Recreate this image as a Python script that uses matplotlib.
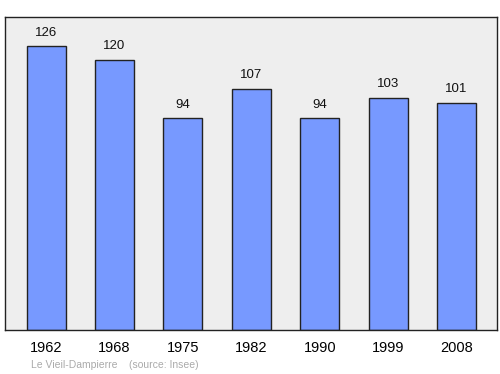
import matplotlib.pyplot as plt

years = ["1962", "1968", "1975", "1982", "1990", "1999", "2008"]
population = [126, 120, 94, 107, 94, 103, 101]

plt.rcParams["font.family"] = ["Liberation Sans", "DejaVu Sans"]

fig = plt.figure(figsize=(5, 3.74), dpi=100)
ax = fig.add_axes([5 / 500, 1 - 330 / 374, 492 / 500, 313 / 374])
ax.set_facecolor("#eeeeee")

x = list(range(len(years)))
ax.bar(x, population, width=0.57, color="#7799ff", edgecolor="#222222", linewidth=1)

for xi, v in zip(x, population):
    ax.annotate(str(v), (xi, v), xytext=(0, 5.5), textcoords="offset points",
                ha="center", va="bottom", fontsize=9.5, color="#111111")

ax.set_xlim(-0.6, 6.59)
ax.set_ylim(0, 139)
ax.set_yticks([])
ax.set_xticks(x)
ax.set_xticklabels(years, fontsize=10.5)
ax.tick_params(axis="x", length=0, pad=8)
for s in ax.spines.values():
    s.set_color("#222222")
    s.set_linewidth(1)

fig.text(31 / 500, 1 - 365 / 374, "Le Vieil-Dampierre    (source: Insee)",
         fontsize=7.5, color="#aaaaaa", va="center")

fig.savefig("out.png", dpi=100)
